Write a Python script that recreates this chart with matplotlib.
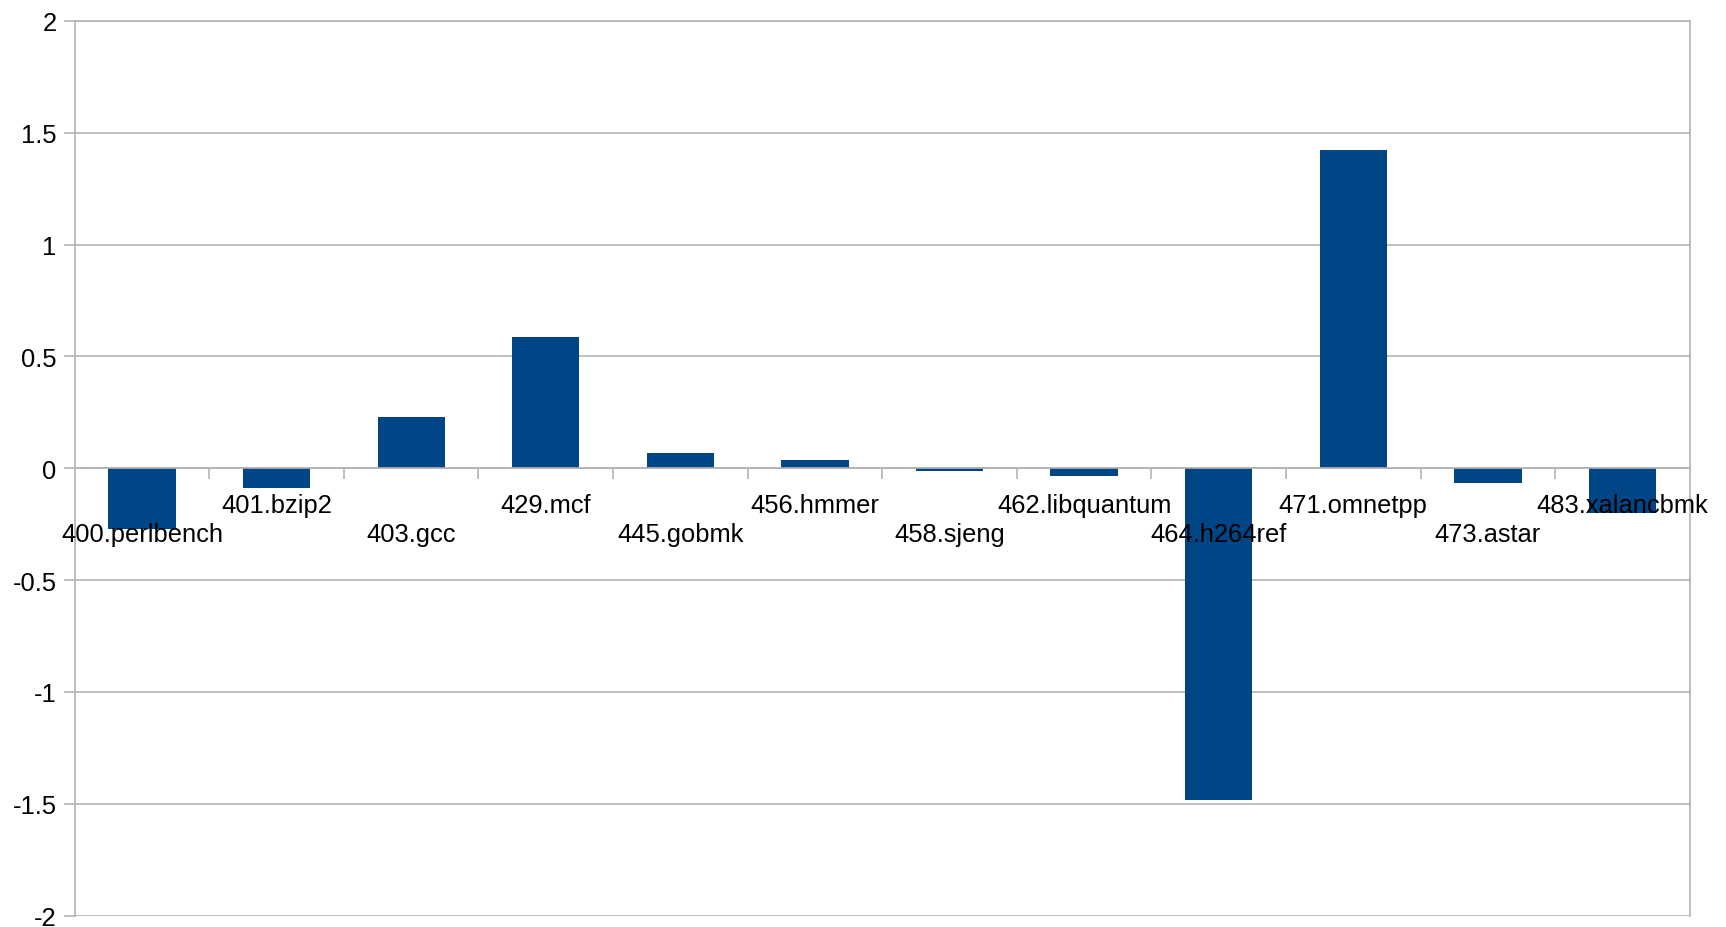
import matplotlib
matplotlib.use("Agg")
import matplotlib.pyplot as plt
import numpy as np

benchmarks = ["400.perlbench", "401.bzip2", "403.gcc", "429.mcf", "445.gobmk",
              "456.hmmer", "458.sjeng", "462.libquantum", "464.h264ref",
              "471.omnetpp", "473.astar", "483.xalancbmk"]
values = [-0.27, -0.09, 0.228, 0.585, 0.07, 0.037, -0.011, -0.034,
          -1.485, 1.422, -0.064, -0.20]
y_ticks = [-2, -1.5, -1, -0.5, 0, 0.5, 1, 1.5, 2]
y_tick_labels = ["-2", "-1.5", "-1", "-0.5", "0", "0.5", "1", "1.5", "2"]

plt.rcParams["font.family"] = ["Liberation Sans", "DejaVu Sans"]

BAR_COLOR = "#004586"
GRID_COLOR = "#b3b3b3"

fig = plt.figure(figsize=(17.26, 9.28), dpi=100)
ax = fig.add_axes([0.0433, 0.0122, 0.979 - 0.0433, 0.9765 - 0.0122])

x = np.arange(len(benchmarks))
ax.bar(x, values, width=0.5, color=BAR_COLOR, zorder=3)

ax.set_xlim(-0.5, len(benchmarks) - 0.5)
ax.set_ylim(-2, 2)
ax.set_yticks(y_ticks)
ax.set_yticklabels(y_tick_labels)
ax.yaxis.grid(True, color=GRID_COLOR, linewidth=1.2, zorder=0)
ax.set_axisbelow(True)

# category axis crosses at zero, ticks between categories
ax.spines["bottom"].set_position(("data", 0))
ax.set_xticks(np.arange(len(benchmarks) - 1) + 0.5)
ax.set_xticklabels([])
ax.tick_params(axis="x", direction="out", length=8, width=1.2, color=GRID_COLOR)
ax.tick_params(axis="y", direction="out", length=8, width=1.2, color=GRID_COLOR,
               labelsize=18.4, pad=5, labelcolor="black")
for side in ["left", "right", "top", "bottom"]:
    ax.spines[side].set_color(GRID_COLOR)
    ax.spines[side].set_linewidth(1.2)
    ax.spines[side].set_zorder(4)

# staggered category labels below the zero line
for i, name in enumerate(benchmarks):
    offset = -17.6 if i % 2 == 1 else -38.4
    ax.annotate(name, xy=(i, 0), xycoords="data", xytext=(0, offset),
                textcoords="offset points", ha="center", va="top",
                fontsize=18.4, color="black", zorder=5)

fig.savefig("out.png", dpi=100, facecolor="white")
